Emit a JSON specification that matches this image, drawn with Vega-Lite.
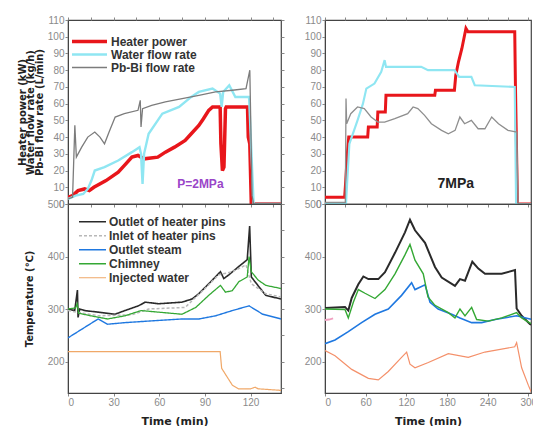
{
  "$schema": "https://vega.github.io/schema/vega-lite/v6.json",
  "autosize": {"type": "pad"},
  "padding": {"left": 16, "top": 14, "right": 0, "bottom": 0},
  "background": "white",
  "config": {
    "view": {"stroke": "#444", "strokeWidth": 1.2},
    "axis": {
      "labelFont": "Liberation Sans",
      "labelFontSize": 10,
      "labelColor": "#8a8a8a",
      "labelPadding": 1,
      "tickColor": "#888",
      "tickSize": 3,
      "domainColor": "#444",
      "titleFont": "DejaVu Sans",
      "titleFontSize": 10,
      "titleFontWeight": "bold",
      "titleColor": "#222",
      "grid": false
    },
    "legend": {
      "orient": "none",
      "title": null,
      "symbolType": "stroke",
      "rowPadding": 0,
      "padding": 0,
      "labelFont": "Liberation Sans",
      "labelFontSize": 12,
      "labelFontWeight": "bold",
      "labelColor": "#333",
      "labelOffset": 2
    }
  },
  "bounds": "flush",
  "columns": 2,
  "spacing": {"row": 0, "column": 44},
  "resolve": {"scale": {"color": "independent", "strokeWidth": "independent", "strokeDash": "independent"}, "legend": {"color": "independent", "strokeWidth": "independent", "strokeDash": "independent"}},
  "datasets": {
    "tl": [
      {"s": "Heater power", "t": 0, "v": 4}, {"s": "Heater power", "t": 3, "v": 5}, {"s": "Heater power", "t": 6.6, "v": 8}, {"s": "Heater power", "t": 11, "v": 9}, {"s": "Heater power", "t": 14, "v": 8}, {"s": "Heater power", "t": 17, "v": 10}, {"s": "Heater power", "t": 25, "v": 14}, {"s": "Heater power", "t": 33, "v": 19}, {"s": "Heater power", "t": 38, "v": 24}, {"s": "Heater power", "t": 42, "v": 28}, {"s": "Heater power", "t": 46, "v": 29}, {"s": "Heater power", "t": 50, "v": 27}, {"s": "Heater power", "t": 59, "v": 28}, {"s": "Heater power", "t": 64, "v": 31}, {"s": "Heater power", "t": 70, "v": 34}, {"s": "Heater power", "t": 77, "v": 38}, {"s": "Heater power", "t": 81, "v": 42}, {"s": "Heater power", "t": 86, "v": 47}, {"s": "Heater power", "t": 89, "v": 51}, {"s": "Heater power", "t": 92.5, "v": 56}, {"s": "Heater power", "t": 95, "v": 58}, {"s": "Heater power", "t": 100, "v": 58}, {"s": "Heater power", "t": 100.5, "v": 36}, {"s": "Heater power", "t": 101.5, "v": 20}, {"s": "Heater power", "t": 102.5, "v": 22}, {"s": "Heater power", "t": 103.5, "v": 57}, {"s": "Heater power", "t": 104, "v": 58}, {"s": "Heater power", "t": 118, "v": 58}, {"s": "Heater power", "t": 118.5, "v": 40}, {"s": "Heater power", "t": 119.5, "v": 36}, {"s": "Heater power", "t": 120.5, "v": 0}, {"s": "Heater power", "t": 140, "v": 0},
      {"s": "Water flow rate", "t": 0, "v": 3}, {"s": "Water flow rate", "t": 5, "v": 5}, {"s": "Water flow rate", "t": 10, "v": 6}, {"s": "Water flow rate", "t": 13, "v": 9}, {"s": "Water flow rate", "t": 15.4, "v": 14}, {"s": "Water flow rate", "t": 17.6, "v": 20}, {"s": "Water flow rate", "t": 24, "v": 22}, {"s": "Water flow rate", "t": 33, "v": 26}, {"s": "Water flow rate", "t": 42, "v": 31}, {"s": "Water flow rate", "t": 47, "v": 34}, {"s": "Water flow rate", "t": 48, "v": 30}, {"s": "Water flow rate", "t": 49, "v": 12}, {"s": "Water flow rate", "t": 50, "v": 30}, {"s": "Water flow rate", "t": 53, "v": 42}, {"s": "Water flow rate", "t": 59, "v": 50}, {"s": "Water flow rate", "t": 62, "v": 54}, {"s": "Water flow rate", "t": 73, "v": 58}, {"s": "Water flow rate", "t": 81, "v": 64}, {"s": "Water flow rate", "t": 86, "v": 67}, {"s": "Water flow rate", "t": 95, "v": 69}, {"s": "Water flow rate", "t": 100, "v": 66}, {"s": "Water flow rate", "t": 101, "v": 58}, {"s": "Water flow rate", "t": 102, "v": 67}, {"s": "Water flow rate", "t": 106, "v": 71}, {"s": "Water flow rate", "t": 110, "v": 64}, {"s": "Water flow rate", "t": 119, "v": 64}, {"s": "Water flow rate", "t": 122, "v": 0}, {"s": "Water flow rate", "t": 140, "v": 0},
      {"s": "Pb-Bi flow rate", "t": 0, "v": 3}, {"s": "Pb-Bi flow rate", "t": 3, "v": 4}, {"s": "Pb-Bi flow rate", "t": 4.5, "v": 47}, {"s": "Pb-Bi flow rate", "t": 5.5, "v": 28}, {"s": "Pb-Bi flow rate", "t": 9, "v": 34}, {"s": "Pb-Bi flow rate", "t": 13, "v": 40}, {"s": "Pb-Bi flow rate", "t": 17.6, "v": 43}, {"s": "Pb-Bi flow rate", "t": 21, "v": 40}, {"s": "Pb-Bi flow rate", "t": 24, "v": 36}, {"s": "Pb-Bi flow rate", "t": 27, "v": 43}, {"s": "Pb-Bi flow rate", "t": 31, "v": 52}, {"s": "Pb-Bi flow rate", "t": 37, "v": 54}, {"s": "Pb-Bi flow rate", "t": 46, "v": 56}, {"s": "Pb-Bi flow rate", "t": 47.5, "v": 62}, {"s": "Pb-Bi flow rate", "t": 48, "v": 46}, {"s": "Pb-Bi flow rate", "t": 49, "v": 57}, {"s": "Pb-Bi flow rate", "t": 55, "v": 59}, {"s": "Pb-Bi flow rate", "t": 64, "v": 61}, {"s": "Pb-Bi flow rate", "t": 75, "v": 63}, {"s": "Pb-Bi flow rate", "t": 86, "v": 65}, {"s": "Pb-Bi flow rate", "t": 97, "v": 67}, {"s": "Pb-Bi flow rate", "t": 108, "v": 68}, {"s": "Pb-Bi flow rate", "t": 117, "v": 69}, {"s": "Pb-Bi flow rate", "t": 119.5, "v": 80}, {"s": "Pb-Bi flow rate", "t": 121, "v": 5}, {"s": "Pb-Bi flow rate", "t": 122, "v": 0}, {"s": "Pb-Bi flow rate", "t": 140, "v": 0}
    ],
    "tr": [
      {"s": "Heater power", "t": 0, "v": 4}, {"s": "Heater power", "t": 29, "v": 4}, {"s": "Heater power", "t": 30, "v": 10}, {"s": "Heater power", "t": 33, "v": 30}, {"s": "Heater power", "t": 35, "v": 40}, {"s": "Heater power", "t": 63, "v": 40}, {"s": "Heater power", "t": 64, "v": 46}, {"s": "Heater power", "t": 77, "v": 46}, {"s": "Heater power", "t": 78, "v": 55}, {"s": "Heater power", "t": 89, "v": 55}, {"s": "Heater power", "t": 90, "v": 65}, {"s": "Heater power", "t": 162, "v": 65}, {"s": "Heater power", "t": 163, "v": 68}, {"s": "Heater power", "t": 191, "v": 68}, {"s": "Heater power", "t": 193, "v": 77}, {"s": "Heater power", "t": 197, "v": 85}, {"s": "Heater power", "t": 202, "v": 93}, {"s": "Heater power", "t": 207, "v": 103}, {"s": "Heater power", "t": 208, "v": 105}, {"s": "Heater power", "t": 211, "v": 103}, {"s": "Heater power", "t": 280, "v": 103}, {"s": "Heater power", "t": 281, "v": 72}, {"s": "Heater power", "t": 284, "v": 0}, {"s": "Heater power", "t": 310, "v": 0},
      {"s": "Water flow rate", "t": 0, "v": 0}, {"s": "Water flow rate", "t": 31, "v": 0}, {"s": "Water flow rate", "t": 33, "v": 15}, {"s": "Water flow rate", "t": 36, "v": 36}, {"s": "Water flow rate", "t": 48, "v": 50}, {"s": "Water flow rate", "t": 56, "v": 60}, {"s": "Water flow rate", "t": 61, "v": 69}, {"s": "Water flow rate", "t": 73, "v": 72}, {"s": "Water flow rate", "t": 83, "v": 79}, {"s": "Water flow rate", "t": 88, "v": 86}, {"s": "Water flow rate", "t": 90, "v": 82}, {"s": "Water flow rate", "t": 142, "v": 82}, {"s": "Water flow rate", "t": 152, "v": 80}, {"s": "Water flow rate", "t": 191, "v": 80}, {"s": "Water flow rate", "t": 198, "v": 76}, {"s": "Water flow rate", "t": 216, "v": 76}, {"s": "Water flow rate", "t": 221, "v": 71}, {"s": "Water flow rate", "t": 280, "v": 70}, {"s": "Water flow rate", "t": 282, "v": 0}, {"s": "Water flow rate", "t": 310, "v": 0},
      {"s": "Pb-Bi flow rate", "t": 0, "v": 1}, {"s": "Pb-Bi flow rate", "t": 30, "v": 1}, {"s": "Pb-Bi flow rate", "t": 31, "v": 63}, {"s": "Pb-Bi flow rate", "t": 32, "v": 48}, {"s": "Pb-Bi flow rate", "t": 38, "v": 54}, {"s": "Pb-Bi flow rate", "t": 48, "v": 58}, {"s": "Pb-Bi flow rate", "t": 58, "v": 57}, {"s": "Pb-Bi flow rate", "t": 68, "v": 52}, {"s": "Pb-Bi flow rate", "t": 78, "v": 49}, {"s": "Pb-Bi flow rate", "t": 88, "v": 49}, {"s": "Pb-Bi flow rate", "t": 103, "v": 51}, {"s": "Pb-Bi flow rate", "t": 122, "v": 54}, {"s": "Pb-Bi flow rate", "t": 130, "v": 58}, {"s": "Pb-Bi flow rate", "t": 137, "v": 57}, {"s": "Pb-Bi flow rate", "t": 147, "v": 53}, {"s": "Pb-Bi flow rate", "t": 157, "v": 48}, {"s": "Pb-Bi flow rate", "t": 172, "v": 44}, {"s": "Pb-Bi flow rate", "t": 182, "v": 42}, {"s": "Pb-Bi flow rate", "t": 192, "v": 44}, {"s": "Pb-Bi flow rate", "t": 199, "v": 52}, {"s": "Pb-Bi flow rate", "t": 206, "v": 48}, {"s": "Pb-Bi flow rate", "t": 216, "v": 50}, {"s": "Pb-Bi flow rate", "t": 226, "v": 45}, {"s": "Pb-Bi flow rate", "t": 236, "v": 45}, {"s": "Pb-Bi flow rate", "t": 246, "v": 52}, {"s": "Pb-Bi flow rate", "t": 256, "v": 48}, {"s": "Pb-Bi flow rate", "t": 270, "v": 44}, {"s": "Pb-Bi flow rate", "t": 283, "v": 43}, {"s": "Pb-Bi flow rate", "t": 285, "v": 0}, {"s": "Pb-Bi flow rate", "t": 310, "v": 0}
    ],
    "bl": [
      {"s": "Outlet of heater pins", "t": 0, "v": 300}, {"s": "Outlet of heater pins", "t": 4.4, "v": 297}, {"s": "Outlet of heater pins", "t": 6.2, "v": 336}, {"s": "Outlet of heater pins", "t": 6.6, "v": 284}, {"s": "Outlet of heater pins", "t": 7.7, "v": 300}, {"s": "Outlet of heater pins", "t": 11, "v": 297}, {"s": "Outlet of heater pins", "t": 19.8, "v": 294}, {"s": "Outlet of heater pins", "t": 30.8, "v": 290}, {"s": "Outlet of heater pins", "t": 37.4, "v": 297}, {"s": "Outlet of heater pins", "t": 46.3, "v": 306}, {"s": "Outlet of heater pins", "t": 50.7, "v": 313}, {"s": "Outlet of heater pins", "t": 59.5, "v": 310}, {"s": "Outlet of heater pins", "t": 74.9, "v": 313}, {"s": "Outlet of heater pins", "t": 81.5, "v": 319}, {"s": "Outlet of heater pins", "t": 85.9, "v": 329}, {"s": "Outlet of heater pins", "t": 92.5, "v": 348}, {"s": "Outlet of heater pins", "t": 100.2, "v": 371}, {"s": "Outlet of heater pins", "t": 102.4, "v": 358}, {"s": "Outlet of heater pins", "t": 105.7, "v": 365}, {"s": "Outlet of heater pins", "t": 112.3, "v": 381}, {"s": "Outlet of heater pins", "t": 117.8, "v": 394}, {"s": "Outlet of heater pins", "t": 119.4, "v": 458}, {"s": "Outlet of heater pins", "t": 120.5, "v": 361}, {"s": "Outlet of heater pins", "t": 125.6, "v": 342}, {"s": "Outlet of heater pins", "t": 130, "v": 326}, {"s": "Outlet of heater pins", "t": 140, "v": 319},
      {"s": "Inlet of heater pins", "t": 0, "v": 297}, {"s": "Inlet of heater pins", "t": 20, "v": 287}, {"s": "Inlet of heater pins", "t": 42, "v": 289}, {"s": "Inlet of heater pins", "t": 53, "v": 300}, {"s": "Inlet of heater pins", "t": 77, "v": 303}, {"s": "Inlet of heater pins", "t": 90, "v": 339}, {"s": "Inlet of heater pins", "t": 99, "v": 365}, {"s": "Inlet of heater pins", "t": 108, "v": 371}, {"s": "Inlet of heater pins", "t": 117, "v": 384}, {"s": "Inlet of heater pins", "t": 120.5, "v": 348}, {"s": "Inlet of heater pins", "t": 130, "v": 329}, {"s": "Inlet of heater pins", "t": 140, "v": 323},
      {"s": "Outlet steam", "t": 0, "v": 245}, {"s": "Outlet steam", "t": 8.8, "v": 261}, {"s": "Outlet steam", "t": 19.8, "v": 281}, {"s": "Outlet steam", "t": 26, "v": 271}, {"s": "Outlet steam", "t": 37.4, "v": 274}, {"s": "Outlet steam", "t": 52.9, "v": 277}, {"s": "Outlet steam", "t": 74.9, "v": 281}, {"s": "Outlet steam", "t": 86, "v": 281}, {"s": "Outlet steam", "t": 97, "v": 287}, {"s": "Outlet steam", "t": 108, "v": 297}, {"s": "Outlet steam", "t": 119, "v": 306}, {"s": "Outlet steam", "t": 128, "v": 290}, {"s": "Outlet steam", "t": 140, "v": 281},
      {"s": "Chimney", "t": 0, "v": 300}, {"s": "Chimney", "t": 5, "v": 302}, {"s": "Chimney", "t": 6, "v": 310}, {"s": "Chimney", "t": 7, "v": 292}, {"s": "Chimney", "t": 15, "v": 287}, {"s": "Chimney", "t": 26, "v": 281}, {"s": "Chimney", "t": 37.4, "v": 287}, {"s": "Chimney", "t": 48, "v": 297}, {"s": "Chimney", "t": 59.5, "v": 294}, {"s": "Chimney", "t": 74.9, "v": 290}, {"s": "Chimney", "t": 84, "v": 303}, {"s": "Chimney", "t": 92.5, "v": 326}, {"s": "Chimney", "t": 100.2, "v": 345}, {"s": "Chimney", "t": 103.5, "v": 332}, {"s": "Chimney", "t": 108, "v": 335}, {"s": "Chimney", "t": 112.3, "v": 352}, {"s": "Chimney", "t": 117.8, "v": 361}, {"s": "Chimney", "t": 119, "v": 400}, {"s": "Chimney", "t": 120.5, "v": 371}, {"s": "Chimney", "t": 125, "v": 355}, {"s": "Chimney", "t": 130, "v": 345}, {"s": "Chimney", "t": 140, "v": 339},
      {"s": "Injected water", "t": 0, "v": 219}, {"s": "Injected water", "t": 100, "v": 219}, {"s": "Injected water", "t": 101, "v": 187}, {"s": "Injected water", "t": 108, "v": 155}, {"s": "Injected water", "t": 112, "v": 148}, {"s": "Injected water", "t": 120, "v": 148}, {"s": "Injected water", "t": 123, "v": 151}, {"s": "Injected water", "t": 125, "v": 148}, {"s": "Injected water", "t": 140, "v": 145}
    ],
    "br": [
      {"s": "Outlet of heater pins", "t": 0, "v": 302}, {"s": "Outlet of heater pins", "t": 29.5, "v": 304}, {"s": "Outlet of heater pins", "t": 34.4, "v": 297}, {"s": "Outlet of heater pins", "t": 39.4, "v": 321}, {"s": "Outlet of heater pins", "t": 49.2, "v": 347}, {"s": "Outlet of heater pins", "t": 56.6, "v": 362}, {"s": "Outlet of heater pins", "t": 64, "v": 357}, {"s": "Outlet of heater pins", "t": 78.7, "v": 357}, {"s": "Outlet of heater pins", "t": 88.5, "v": 370}, {"s": "Outlet of heater pins", "t": 103.3, "v": 407}, {"s": "Outlet of heater pins", "t": 118, "v": 446}, {"s": "Outlet of heater pins", "t": 125.4, "v": 470}, {"s": "Outlet of heater pins", "t": 132.8, "v": 450}, {"s": "Outlet of heater pins", "t": 147.6, "v": 426}, {"s": "Outlet of heater pins", "t": 162.3, "v": 380}, {"s": "Outlet of heater pins", "t": 172.2, "v": 360}, {"s": "Outlet of heater pins", "t": 191.8, "v": 344}, {"s": "Outlet of heater pins", "t": 199.2, "v": 357}, {"s": "Outlet of heater pins", "t": 206.6, "v": 354}, {"s": "Outlet of heater pins", "t": 217.4, "v": 390}, {"s": "Outlet of heater pins", "t": 226.3, "v": 377}, {"s": "Outlet of heater pins", "t": 236.1, "v": 367}, {"s": "Outlet of heater pins", "t": 260.7, "v": 367}, {"s": "Outlet of heater pins", "t": 280.4, "v": 374}, {"s": "Outlet of heater pins", "t": 282.8, "v": 301}, {"s": "Outlet of heater pins", "t": 290.2, "v": 287}, {"s": "Outlet of heater pins", "t": 302.5, "v": 271}, {"s": "Outlet of heater pins", "t": 310, "v": 268},
      {"s": "Inlet of heater pins", "t": 0, "v": 279}, {"s": "Inlet of heater pins", "t": 6, "v": 280}, {"s": "Inlet of heater pins", "t": 12, "v": 282},
      {"s": "Outlet steam", "t": 0, "v": 234}, {"s": "Outlet steam", "t": 14.8, "v": 241}, {"s": "Outlet steam", "t": 34.4, "v": 257}, {"s": "Outlet steam", "t": 54, "v": 274}, {"s": "Outlet steam", "t": 73.8, "v": 290}, {"s": "Outlet steam", "t": 93.4, "v": 300}, {"s": "Outlet steam", "t": 113, "v": 326}, {"s": "Outlet steam", "t": 127.8, "v": 350}, {"s": "Outlet steam", "t": 132.8, "v": 337}, {"s": "Outlet steam", "t": 147.6, "v": 346}, {"s": "Outlet steam", "t": 155, "v": 313}, {"s": "Outlet steam", "t": 167, "v": 300}, {"s": "Outlet steam", "t": 187, "v": 290}, {"s": "Outlet steam", "t": 199.2, "v": 283}, {"s": "Outlet steam", "t": 216.4, "v": 274}, {"s": "Outlet steam", "t": 231.2, "v": 274}, {"s": "Outlet steam", "t": 251, "v": 280}, {"s": "Outlet steam", "t": 282.8, "v": 287}, {"s": "Outlet steam", "t": 302.5, "v": 281}, {"s": "Outlet steam", "t": 310, "v": 280},
      {"s": "Chimney", "t": 0, "v": 300}, {"s": "Chimney", "t": 29.5, "v": 299}, {"s": "Chimney", "t": 34.4, "v": 283}, {"s": "Chimney", "t": 41.8, "v": 313}, {"s": "Chimney", "t": 49.2, "v": 337}, {"s": "Chimney", "t": 59, "v": 330}, {"s": "Chimney", "t": 73.8, "v": 320}, {"s": "Chimney", "t": 88.5, "v": 337}, {"s": "Chimney", "t": 103.3, "v": 367}, {"s": "Chimney", "t": 118, "v": 403}, {"s": "Chimney", "t": 125.4, "v": 423}, {"s": "Chimney", "t": 132.8, "v": 393}, {"s": "Chimney", "t": 145, "v": 367}, {"s": "Chimney", "t": 152, "v": 323}, {"s": "Chimney", "t": 162.3, "v": 307}, {"s": "Chimney", "t": 182, "v": 293}, {"s": "Chimney", "t": 191.8, "v": 283}, {"s": "Chimney", "t": 199.2, "v": 300}, {"s": "Chimney", "t": 206.6, "v": 287}, {"s": "Chimney", "t": 216.4, "v": 303}, {"s": "Chimney", "t": 223.8, "v": 280}, {"s": "Chimney", "t": 241, "v": 277}, {"s": "Chimney", "t": 260.7, "v": 283}, {"s": "Chimney", "t": 282.8, "v": 293}, {"s": "Chimney", "t": 290.2, "v": 283}, {"s": "Chimney", "t": 302.5, "v": 273}, {"s": "Chimney", "t": 310, "v": 272},
      {"s": "Injected water", "t": 0, "v": 221}, {"s": "Injected water", "t": 14.8, "v": 211}, {"s": "Injected water", "t": 39.4, "v": 185}, {"s": "Injected water", "t": 64, "v": 168}, {"s": "Injected water", "t": 78.7, "v": 165}, {"s": "Injected water", "t": 93.4, "v": 181}, {"s": "Injected water", "t": 113, "v": 208}, {"s": "Injected water", "t": 120.5, "v": 218}, {"s": "Injected water", "t": 125.4, "v": 195}, {"s": "Injected water", "t": 132.8, "v": 188}, {"s": "Injected water", "t": 152.5, "v": 198}, {"s": "Injected water", "t": 182, "v": 215}, {"s": "Injected water", "t": 211.4, "v": 208}, {"s": "Injected water", "t": 236, "v": 218}, {"s": "Injected water", "t": 280, "v": 228}, {"s": "Injected water", "t": 282.8, "v": 236}, {"s": "Injected water", "t": 290.2, "v": 188}, {"s": "Injected water", "t": 300, "v": 155}, {"s": "Injected water", "t": 305, "v": 140}
    ],
    "notes": [
      {"panel": "2MPa", "label": "P=2MPa", "t": 87, "v": 12},
      {"panel": "7MPa", "label": "7MPa", "t": 193, "v": 12}
    ]
  },
  "concat": [
    {
      "width": 213,
      "height": 184,
      "data": {"name": "tl"},
      "resolve": {"axis": {"x": "independent", "y": "independent"}},
      "layer": [
        {
          "mark": {"type": "line", "clip": true},
          "encoding": {
            "x": {"field": "t", "type": "quantitative", "scale": {"domain": [0, 140], "nice": false},
                  "axis": {"values": [0, 15, 30, 45, 60, 75, 90, 105, 120, 135], "labels": false, "title": null}},
            "y": {"field": "v", "type": "quantitative", "scale": {"domain": [0, 110], "nice": false},
                  "axis": {"values": [0, 10, 20, 30, 40, 50, 60, 70, 80, 90, 100, 110],
                           "title": ["Heater power (kW)", "Water flow rate (kg/h)", "Pb-Bi flow rate (L/min)"],
                           "titleLineHeight": 8.5, "titlePadding": 3}},
            "color": {"field": "s", "type": "nominal",
                      "scale": {"domain": ["Heater power", "Water flow rate", "Pb-Bi flow rate"], "range": ["#e8161b", "#8fe6f2", "#7c7c7c"]},
                      "legend": {"legendX": 2, "legendY": 15, "symbolSize": 1225, "clipHeight": 13}},
            "strokeWidth": {"field": "s", "type": "nominal",
                      "scale": {"domain": ["Heater power", "Water flow rate", "Pb-Bi flow rate"], "range": [3.5, 1.3, 4.5]},
                      "legend": {"legendX": 2, "legendY": 15, "symbolSize": 1225, "clipHeight": 13}}
          }
        },
        {
          "data": {"name": "notes"},
          "transform": [{"filter": "datum.panel == '2MPa'"}],
          "mark": {"type": "text", "font": "Liberation Sans", "fontSize": 12, "fontWeight": "bold", "fill": "#9a45c8"},
          "encoding": {
            "x": {"field": "t", "type": "quantitative", "axis": {"orient": "top", "values": [0, 15, 30, 45, 60, 75, 90, 105, 120, 135], "labels": false, "title": null, "domain": false}},
            "y": {"field": "v", "type": "quantitative", "axis": {"orient": "right", "values": [0, 10, 20, 30, 40, 50, 60, 70, 80, 90, 100, 110], "labels": false, "title": null, "domain": false}},
            "text": {"field": "label"}
          }
        }
      ]
    },
    {
      "width": 206,
      "height": 184,
      "data": {"name": "tr"},
      "resolve": {"axis": {"x": "independent"}},
      "layer": [
        {
          "mark": {"type": "line", "clip": true},
          "encoding": {
            "x": {"field": "t", "type": "quantitative", "scale": {"domain": [0, 304], "nice": false},
                  "axis": {"values": [0, 30, 60, 90, 120, 150, 180, 210, 240, 270, 300], "labels": false, "title": null}},
            "y": {"field": "v", "type": "quantitative", "scale": {"domain": [0, 110], "nice": false},
                  "axis": {"values": [0, 10, 20, 30, 40, 50, 60, 70, 80, 90, 100, 110], "title": null}},
            "color": {"field": "s", "type": "nominal",
                      "scale": {"domain": ["Heater power", "Water flow rate", "Pb-Bi flow rate"], "range": ["#e8161b", "#8fe6f2", "#8e8e8e"]},
                      "legend": null},
            "strokeWidth": {"field": "s", "type": "nominal",
                      "scale": {"domain": ["Heater power", "Water flow rate", "Pb-Bi flow rate"], "range": [3, 1.3, 3]},
                      "legend": null}
          }
        },
        {
          "data": {"name": "notes"},
          "transform": [{"filter": "datum.panel == '7MPa'"}],
          "mark": {"type": "text", "font": "Liberation Sans", "fontSize": 14, "fontWeight": "bold", "fill": "#222"},
          "encoding": {
            "x": {"field": "t", "type": "quantitative", "axis": {"orient": "top", "values": [0, 30, 60, 90, 120, 150, 180, 210, 240, 270, 300], "labels": false, "title": null, "domain": false}},
            "y": {"field": "v", "type": "quantitative", "axis": {"values": [0, 10, 20, 30, 40, 50, 60, 70, 80, 90, 100, 110], "title": null}},
            "text": {"field": "label"}
          }
        }
      ]
    },
    {
      "width": 213,
      "height": 189,
      "data": {"name": "bl"},
      "resolve": {"axis": {"y": "independent"}},
      "layer": [
        {
          "mark": {"type": "line", "clip": true},
          "encoding": {
            "x": {"field": "t", "type": "quantitative", "scale": {"domain": [0, 140], "nice": false},
                  "axis": {"values": [0, 30, 60, 90, 120], "title": "Time (min)", "titleFontSize": 11, "titlePadding": 8}},
            "y": {"field": "v", "type": "quantitative", "scale": {"domain": [140, 500], "nice": false},
                  "axis": {"values": [200, 300, 400, 500], "title": "Temperature (℃)", "titlePadding": 13}},
            "color": {"field": "s", "type": "nominal",
                      "scale": {"domain": ["Outlet of heater pins", "Inlet of heater pins", "Outlet steam", "Chimney", "Injected water"],
                                "range": ["#2a2a2a", "#b8b8b8", "#1f78e0", "#34a834", "#f0a868"]},
                      "legend": {"legendX": 10, "legendY": 11, "symbolSize": 729, "clipHeight": 13.5}},
            "strokeWidth": {"field": "s", "type": "nominal",
                      "scale": {"domain": ["Outlet of heater pins", "Inlet of heater pins", "Outlet steam", "Chimney", "Injected water"], "range": [1.6, 1.2, 2.2, 1.6, 1.6]},
                      "legend": {"legendX": 10, "legendY": 11, "symbolSize": 729, "clipHeight": 13.5}},
            "strokeDash": {"field": "s", "type": "nominal",
                      "scale": {"domain": ["Outlet of heater pins", "Inlet of heater pins", "Outlet steam", "Chimney", "Injected water"], "range": [[1, 0], [3, 2], [1, 0], [1, 0], [1, 0]]},
                      "legend": {"legendX": 10, "legendY": 11, "symbolSize": 729, "clipHeight": 13.5}}
          }
        },
        {
          "data": {"name": "notes"},
          "transform": [{"filter": "datum.panel == 'none'"}],
          "mark": {"type": "text"},
          "encoding": {
            "x": {"field": "t", "type": "quantitative"},
            "y": {"field": "v", "type": "quantitative", "axis": {"orient": "right", "values": [150, 200, 250, 300, 350, 400, 450, 500], "labels": false, "title": null, "domain": false}},
            "text": {"field": "label"}
          }
        }
      ]
    },
    {
      "width": 206,
      "height": 189,
      "data": {"name": "br"},
      "layer": [
        {
          "mark": {"type": "line", "clip": true},
          "encoding": {
            "x": {"field": "t", "type": "quantitative", "scale": {"domain": [0, 304], "nice": false},
                  "axis": {"values": [0, 60, 120, 180, 240, 300], "title": "Time (min)", "titleFontSize": 11, "titlePadding": 8}},
            "y": {"field": "v", "type": "quantitative", "scale": {"domain": [140, 500], "nice": false},
                  "axis": {"values": [200, 300, 400, 500], "title": null}},
            "color": {"field": "s", "type": "nominal",
                      "scale": {"domain": ["Outlet of heater pins", "Inlet of heater pins", "Outlet steam", "Chimney", "Injected water"],
                                "range": ["#2a2a2a", "#f0a0c0", "#1f78e0", "#34a834", "#f4906a"]},
                      "legend": null},
            "strokeWidth": {"field": "s", "type": "nominal",
                      "scale": {"domain": ["Outlet of heater pins", "Inlet of heater pins", "Outlet steam", "Chimney", "Injected water"], "range": [2, 1.2, 2.6, 1.6, 1.4]},
                      "legend": null}
          }
        }
      ]
    }
  ]
}
